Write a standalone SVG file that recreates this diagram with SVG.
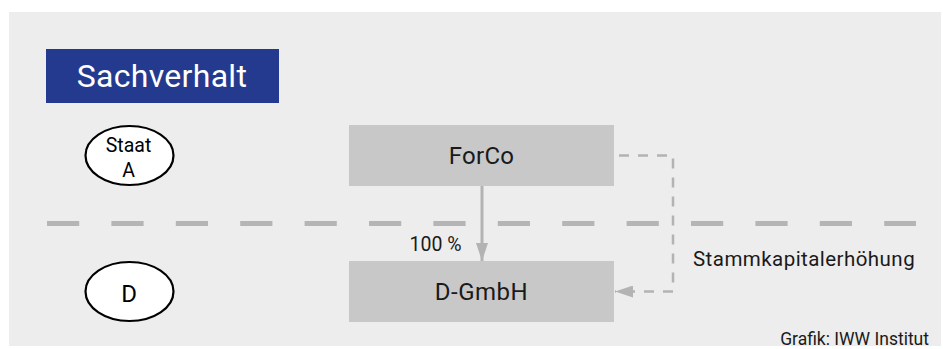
<svg xmlns="http://www.w3.org/2000/svg" width="943" height="349" viewBox="0 0 943 349">
<style>
text{font-family:Roboto,"Liberation Sans",sans-serif;fill:#1a1a1a}
.box{fill:#c8c8c8}
.ell{fill:#fff;stroke:#000;stroke-width:2.2}
.ellt{fill:#000}
.conn{stroke:#b3b3b3;fill:none}
</style>
<defs>
<marker id="ah" viewBox="0 0 18 12" refX="18" refY="6" markerWidth="18" markerHeight="12" markerUnits="userSpaceOnUse" orient="auto">
<path d="M0,0 L18,6 L0,12 Z" fill="#b3b3b3"/>
</marker>
</defs>
<rect x="0" y="0" width="943" height="349" fill="#fff"/>
<rect x="9" y="12" width="932" height="334" fill="#ededed"/>
<line x1="47" y1="223.5" x2="916" y2="223.5" stroke="#b5b5b5" stroke-width="5" stroke-dasharray="32.2 32.2"/>
<g id="title">
<rect x="46" y="49" width="233" height="54" fill="#233a8f"/>
<text x="162" y="87" font-size="32" text-anchor="middle" letter-spacing="0.3" style="fill:#fff">Sachverhalt</text>
</g>
<g id="staatA">
<ellipse class="ell" cx="129.5" cy="155.5" rx="44" ry="29.5"/>
<text class="ellt" x="128.5" y="152" font-size="19.5" text-anchor="middle">Staat</text>
<text class="ellt" x="128.5" y="177" font-size="19.5" text-anchor="middle">A</text>
</g>
<g id="staatD">
<ellipse class="ell" cx="129.5" cy="291.5" rx="44" ry="29.5"/>
<text class="ellt" x="129" y="301.5" font-size="24" text-anchor="middle">D</text>
</g>
<g id="forco">
<rect class="box" x="349" y="125" width="265" height="61"/>
<text x="481.5" y="164" font-size="24" text-anchor="middle" letter-spacing="0.3">ForCo</text>
</g>
<g id="dgmbh">
<rect class="box" x="349" y="261" width="265" height="61"/>
<text x="481.5" y="300" font-size="24" text-anchor="middle" letter-spacing="0.5">D-GmbH</text>
</g>
<g id="connectors">
<line class="conn" x1="482" y1="186" x2="482" y2="261" stroke-width="3" marker-end="url(#ah)"/>
<text x="435.5" y="250.5" font-size="19.5" text-anchor="middle">100 %</text>
<path class="conn" d="M619,155.5 H673 V291.5 H615" stroke-width="2.5" stroke-dasharray="10 9" marker-end="url(#ah)"/>
<text x="693" y="265.5" font-size="20.5" letter-spacing="0.45">Stammkapitalerhöhung</text>
</g>
<text x="929" y="345" font-size="17.5" text-anchor="end">Grafik: IWW Institut</text>
</svg>
